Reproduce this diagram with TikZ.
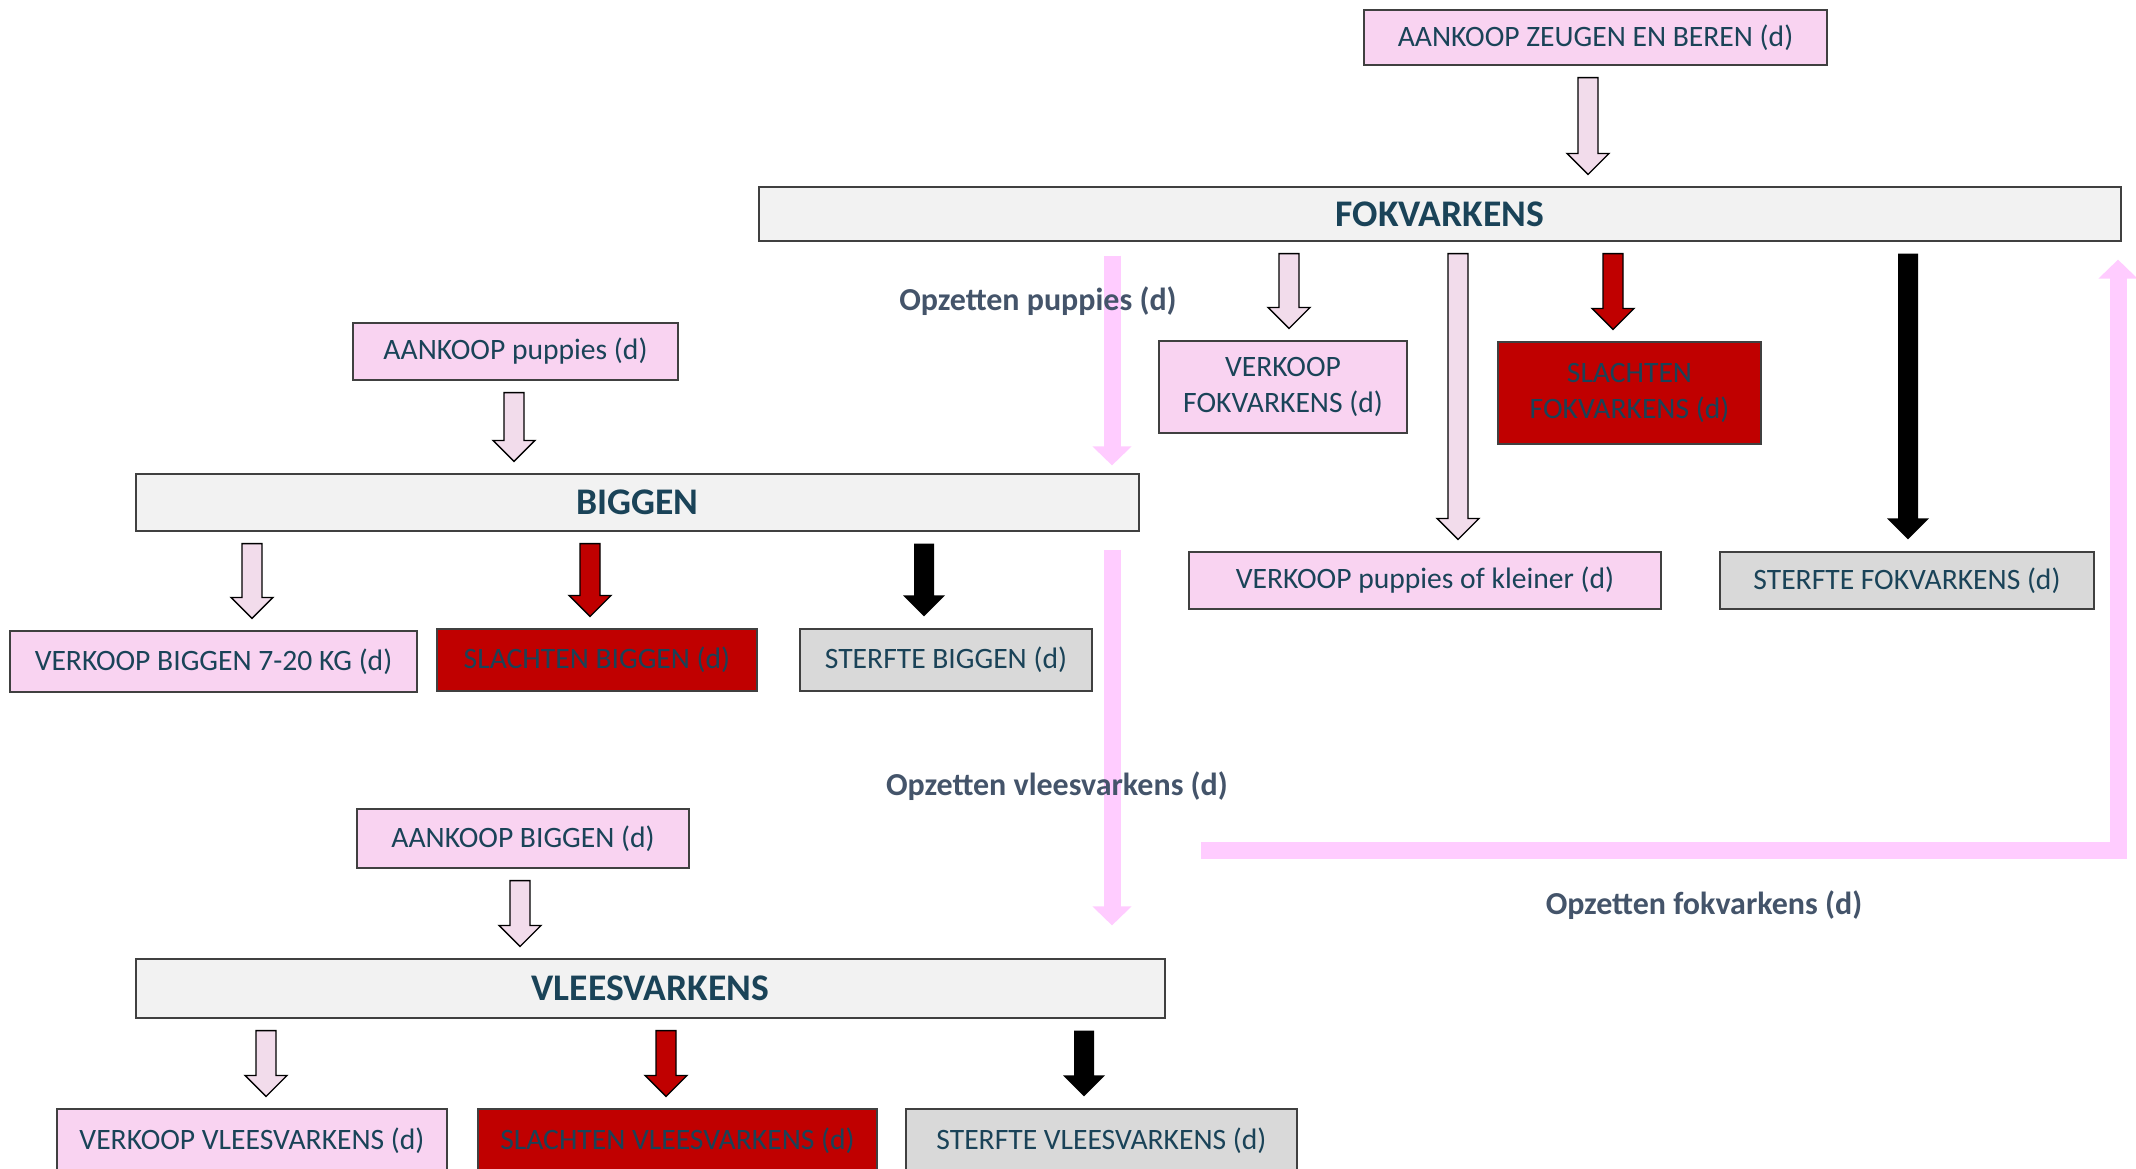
\documentclass[tikz,border=0pt]{standalone}
\usepackage{fontspec}
\setmainfont{Carlito}
\usetikzlibrary{arrows.meta,calc}

\definecolor{boxpink}{HTML}{F9D3F1}
\definecolor{titlegray}{HTML}{F2F2F2}
\definecolor{deadgray}{HTML}{D9D9D9}
\definecolor{slachtred}{HTML}{C00000}
\definecolor{boxline}{HTML}{404040}
\definecolor{txt}{HTML}{1A4358}
\definecolor{labelgray}{HTML}{44546A}
\definecolor{flowpink}{HTML}{FFCCFF}
\definecolor{hollowfill}{HTML}{F2DCEB}

\newcommand\lbl{\fontsize{14.8}{18}\selectfont}
\newcommand\oplbl{\fontsize{16}{19}\selectfont\bfseries}
\newcommand\ttl{\fontsize{18.8}{22}\selectfont\bfseries}
\newcommand\shaftw{5pt}
\newcommand\headw{10.5pt}
% block arrow straight down at x, from one node to the next
\newcommand\blockarr[4][hollowarr]{%
  \path[#1] let \p1=(#3.south), \p2=(#4.north), \p3=(#2,0) in
    (\x3-\shaftw,\y1-6pt) -- (\x3+\shaftw,\y1-6pt) -- (\x3+\shaftw,\y2+16.5pt)
    -- (\x3+\headw,\y2+16.5pt) -- (\x3,\y2+6pt) -- (\x3-\headw,\y2+16.5pt)
    -- (\x3-\shaftw,\y2+16.5pt) -- cycle;}

\begin{document}
\begin{tikzpicture}[x=0.5pt,y=-0.5pt,
    box/.style={draw=boxline, line width=0.6pt, text=txt, font=\lbl, inner sep=0pt, align=center},
    pinkbox/.style={box, fill=boxpink},
    redbox/.style={box, fill=slachtred},
    graybox/.style={box, fill=deadgray},
    title/.style={box, fill=titlegray, font=\ttl},
    hollowarr/.style={draw=black, line width=0.65pt, fill=hollowfill},
    redarr/.style={draw=black, line width=0.65pt, fill=slachtred},
    blackarr/.style={fill=black},
    flow/.style={draw=flowpink, line width=8.5pt, line join=miter, -{Triangle[width=19pt,length=9.5pt]}},
    oplabel/.style={text=labelgray, font=\oplbl}]
\useasboundingbox (0,0) rectangle (2136,1168);
\clip (0,0) rectangle (2136,1168);

% fokvarkens
\node[pinkbox, minimum width=231.5pt, minimum height=27.5pt] (zeugen) at (1595.5,37.5) {AANKOOP ZEUGEN EN BEREN (d)};
\node[title, minimum width=681pt, minimum height=27pt] (fok) at (1440,214) {FOKVARKENS};
\node[pinkbox, minimum width=124pt, minimum height=46pt] (vfok) at (1283,387) {VERKOOP\\FOKVARKENS (d)};
\node[redbox, minimum width=131.5pt, minimum height=51pt] (sfok) at (1629.5,393) {SLACHTEN\\FOKVARKENS (d)};
\node[pinkbox, minimum width=236pt, minimum height=28.5pt] (vpup) at (1425,580.5) {VERKOOP puppies of kleiner (d)};
\node[graybox, minimum width=187pt, minimum height=28.5pt] (stfok) at (1907,580.5) {STERFTE FOKVARKENS (d)};

% biggen
\node[pinkbox, minimum width=162.5pt, minimum height=28.5pt] (apup) at (515.5,351.5) {AANKOOP puppies (d)};
\node[title, minimum width=501.5pt, minimum height=28.5pt] (big) at (637.5,502.5) {BIGGEN};
\node[pinkbox, minimum width=203.5pt, minimum height=30.5pt] (vbig) at (213.5,661.5) {VERKOOP BIGGEN 7-20 KG (d)};
\node[redbox, minimum width=160pt, minimum height=31pt] (sbig) at (597,660) {SLACHTEN BIGGEN (d)};
\node[graybox, minimum width=146pt, minimum height=31pt] (stbig) at (946,660) {STERFTE BIGGEN (d)};

% vleesvarkens
\node[pinkbox, minimum width=166pt, minimum height=29.5pt] (abig) at (523,838.5) {AANKOOP BIGGEN (d)};
\node[title, minimum width=514.5pt, minimum height=29.5pt] (vlees) at (650.5,988.5) {VLEESVARKENS};
\node[pinkbox, minimum width=195pt, minimum height=32pt] (vvlees) at (252,1141) {VERKOOP VLEESVARKENS (d)};
\node[redbox, minimum width=199.5pt, minimum height=32pt] (svlees) at (677.5,1141) {SLACHTEN VLEESVARKENS (d)};
\node[graybox, minimum width=195.5pt, minimum height=32pt] (stvlees) at (1101.5,1141) {STERFTE VLEESVARKENS (d)};

\blockarr{1588}{zeugen}{fok}
\blockarr{1289}{fok}{vfok}
\blockarr{1458}{fok}{vpup}
\blockarr[redarr]{1613}{fok}{sfok}
\blockarr[blackarr]{1908}{fok}{stfok}

\blockarr{514}{apup}{big}
\blockarr{252}{big}{vbig}
\blockarr[redarr]{590}{big}{sbig}
\blockarr[blackarr]{924}{big}{stbig}

\blockarr{520}{abig}{vlees}
\blockarr{266}{vlees}{vvlees}
\blockarr[redarr]{666}{vlees}{svlees}
\blockarr[blackarr]{1084}{vlees}{stvlees}

% opzetten
\coordinate (opx) at (1112,0);
\coordinate (fokin) at (1201,850);
\draw[flow] ($(fok.south -| opx)+(0,14)$) -- ($(big.north -| opx)+(0,-8)$);
\draw[flow] ($(big.south -| opx)+(0,18)$) -- ($(vlees.north -| opx)+(0,-33)$);
\draw[flow] (fokin) -| ($(fok.south -| 2118,0)+(0,18)$);

\node[oplabel] (oppup) at (1038,301) {Opzetten puppies (d)};
\node[oplabel] (opvlees) at (1057,786) {Opzetten vleesvarkens (d)};
\node[oplabel] (opfok) at (1704,905) {Opzetten fokvarkens (d)};
\end{tikzpicture}
\end{document}
